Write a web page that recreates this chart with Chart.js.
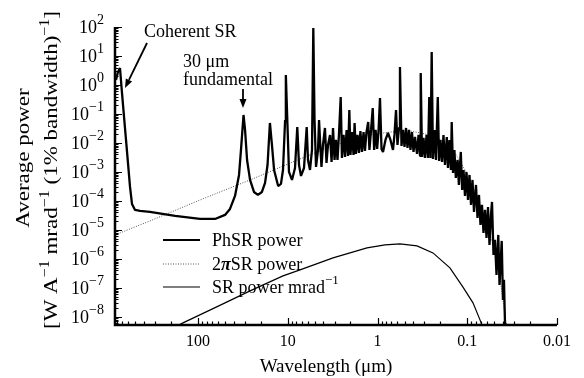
<!DOCTYPE html>
<html>
<head>
<meta charset="utf-8">
<script src="https://cdn.jsdelivr.net/npm/chart.js@4.4.0/dist/chart.umd.min.js"></script>
<style>
  html, body { margin: 0; padding: 0; background: #fff; }
  canvas { display: block; }
</style>
</head>
<body>
<canvas id="spectrum" width="584" height="378"></canvas>
<script>
// PhSR power: wavelength (um) and power
const phsrWavelength = [
  820, 779, 740, 703, 634, 572, 544, 503, 443, 343,
  180, 95.0, 64.6, 50.0, 44.0, 38.7, 34.9, 33.2, 31.1, 29.9,
  28.4, 26.3, 23.8, 21.5, 19.4, 17.9, 16.8, 15.8, 15.0, 14.2,
  12.8, 11.9, 11.3, 10.7, 10.5, 10.2, 9.69, 8.97, 8.30, 7.83,
  7.49, 7.12, 6.59, 6.15, 5.95, 5.65, 5.37, 5.19, 5.03, 4.84,
  4.60, 4.48, 4.37, 4.21, 4.05, 3.85, 3.70, 3.56, 3.38, 3.25,
  3.13, 3.01, 2.90, 2.79, 2.69, 2.57, 2.49, 2.39, 2.30, 2.21,
  2.13, 2.06, 2.00, 1.92, 1.85, 1.80, 1.74, 1.67, 1.61, 1.55,
  1.49, 1.43, 1.38, 1.33, 1.27, 1.23, 1.18, 1.13, 1.09, 1.05,
  1.01, 0.975, 0.938, 0.902, 0.868, 0.815, 0.764, 0.717, 0.672, 0.647,
  0.622, 0.599, 0.576, 0.562, 0.540, 0.520, 0.500, 0.481, 0.463, 0.446,
  0.429, 0.413, 0.397, 0.382, 0.363, 0.349, 0.336, 0.330, 0.319, 0.307,
  0.296, 0.284, 0.274, 0.265, 0.257, 0.249, 0.241, 0.232, 0.223, 0.213,
  0.206, 0.199, 0.191, 0.184, 0.177, 0.169, 0.164, 0.158, 0.152, 0.149,
  0.144, 0.139, 0.134, 0.128, 0.124, 0.118, 0.114, 0.110, 0.106, 0.102,
  0.0981, 0.0944, 0.0908, 0.0874, 0.0841, 0.0799, 0.0769, 0.0740, 0.0712, 0.0685,
  0.0659, 0.0634, 0.0610, 0.0587, 0.0565, 0.0544, 0.0530, 0.0510, 0.0491, 0.0472,
  0.0451, 0.0437, 0.0413, 0.0400, 0.0390, 0.0380, 0.0370
]
const phsrPower = [
  1.49, 2.81, 3.86, 0.53, 0.0127, 3.04e-4, 7.88e-5, 4.9e-5, 4.52e-5, 4.18e-5,
  3.04e-5, 2.39e-5, 2.39e-5, 3.29e-5, 5.3e-5, 1.49e-4, 7.88e-4, 5.74e-3, 0.0923, 0.0281,
  2.59e-3, 5.3e-4, 2.04e-4, 1.61e-4, 2.04e-4, 4.18e-4, 1.74e-3, 0.049, 8.53e-3, 1.17e-3,
  3.29e-4, 3.86e-4, 1.17e-3, 0.0621, 2.21, 0.137, 1.0e-3, 5.3e-4, 1.37e-3, 0.0356,
  1.74e-3, 7.28e-4, 1.37e-3, 0.0356, 2.59e-3, 1.17e-3, 5.74e-3, 92, 0.0621, 1.49e-3,
  5.74e-3, 0.0621, 0.0127, 1.49e-3, 8.53e-3, 0.0329, 2.04e-3, 8.53e-3, 0.0189, 2.21e-3,
  0.0329, 2.59e-3, 0.0127, 2.59e-3, 0.0189, 0.386, 3.04e-3, 0.0189, 3.29e-3, 0.0281,
  3.56e-3, 0.137, 3.86e-3, 0.0239, 3.86e-3, 0.049, 4.18e-3, 0.0189, 4.52e-3, 0.0259,
  4.9e-3, 0.0239, 5.3e-3, 0.0221, 0.053, 5.74e-3, 0.0281, 0.161, 5.74e-3, 0.0281,
  6.21e-3, 0.0239, 0.356, 6.21e-3, 4.9e-3, 0.0127, 0.0221, 0.0127, 5.74e-3, 0.0189,
  0.137, 8.53e-3, 0.0329, 4.18, 7.88e-3, 0.0281, 7.28e-3, 0.0329, 6.72e-3, 0.0281,
  5.74e-3, 0.0239, 4.9e-3, 0.0161, 4.18e-3, 0.0189, 3.56e-3, 2.59, 3.29e-3, 0.0149,
  3.04e-3, 0.0189, 3.04e-3, 0.386, 3.04e-3, 13.7, 2.81e-3, 0.0281, 2.59e-3, 0.386,
  2.39e-3, 0.0127, 2.21e-3, 0.0189, 1.74e-3, 0.0161, 1.37e-3, 0.0127, 1.17e-3, 0.053,
  9.24e-4, 5.74e-3, 6.21e-4, 2.59e-3, 3.56e-4, 4.9e-3, 2.39e-4, 1.17e-3, 1.49e-4, 1.0e-3,
  1.08e-4, 7.88e-4, 7.28e-5, 5.3e-4, 4.18e-5, 3.56e-4, 2.59e-5, 1.61e-4, 1.49e-5, 7.28e-5,
  7.88e-6, 4.9e-5, 5.3e-6, 6.21e-5, 3.04e-6, 3.29e-5, 9.24e-5, 1.37e-6, 4.52e-6, 2.81e-7,
  6.72e-6, 1.27e-7, 4.18e-6, 3.86e-8, 1.89e-7, 6.72e-9, 3.56e-9
]

// 2piSR power
const twoPiWavelength = [840, 343, 95.0, 26.3, 7.30, 3.38, 2.02, 1.21, 0.717, 0.434,
  0.260, 0.177, 0.137, 0.106, 0.0820, 0.0634, 0.0516, 0.0432, 0.0380, 0.0352]
const twoPiPower = [6.72e-6, 2.04e-5, 1.08e-4, 5.3e-4, 2.81e-3, 7.28e-3, 0.0127, 0.0189, 0.0239, 0.0259,
  0.0189, 0.01, 4.52e-3, 1.17e-3, 2.04e-4, 2.59e-5, 3.04e-6, 2.21e-7, 1.17e-8, 2.4e-9]

// SR power per mrad
const srWavelength = [180, 147, 61.9, 26.3, 11.3, 7.30, 3.13, 1.31, 0.825, 0.562,
  0.363, 0.241, 0.156, 0.112, 0.0863, 0.0721, 0.0668]
const srPower = [4.52e-9, 6.21e-9, 2.21e-8, 7.88e-8, 2.59e-7, 4.18e-7, 1.08e-6, 2.39e-6, 3.04e-6, 3.29e-6,
  2.81e-6, 1.61e-6, 4.9e-7, 1.08e-7, 3.04e-8, 7.88e-9, 4.18e-9]

const xTickValues = [100, 10, 1, 0.1, 0.01]
const xTickLabels = ['100', '10', '1', '0.1', '0.01']
const yTickExponents = [2, 1, 0, -1, -2, -3, -4, -5, -6, -7, -8]

const SERIF = "'Liberation Serif', 'Times New Roman', serif"
const MINUS = '\u2212'

function pairs(xs, ys) {
  return xs.map((x, i) => ({ x: x, y: ys[i] }))
}

function setFont(ctx, size, style) {
  ctx.font = (style || '') + ' ' + size + 'px ' + SERIF
}

// a run is a list of [text, size, rise, style] pieces
function runWidth(ctx, run) {
  let w = 0
  for (const p of run) {
    setFont(ctx, p[1], p[3])
    w += ctx.measureText(p[0]).width
  }
  return w
}

function drawRun(ctx, run, x, y) {
  for (const p of run) {
    setFont(ctx, p[1], p[3])
    ctx.fillText(p[0], x, y - (p[2] || 0))
    x += ctx.measureText(p[0]).width
  }
  return x
}

// rotated title, squeezed a little across the glyphs
function drawVertical(ctx, run, x, y, squeeze) {
  ctx.save()
  ctx.translate(x, y)
  ctx.rotate(-Math.PI / 2)
  ctx.scale(1, squeeze)
  drawRun(ctx, run, -runWidth(ctx, run) / 2, 0)
  ctx.restore()
}

function arrow(ctx, x1, y1, x2, y2) {
  const ang = Math.atan2(y2 - y1, x2 - x1)
  const len = 9, half = 3.5
  const bx = x2 - len * Math.cos(ang), by = y2 - len * Math.sin(ang)
  ctx.lineWidth = 1.8
  ctx.beginPath()
  ctx.moveTo(x1, y1)
  ctx.lineTo(bx, by)
  ctx.stroke()
  ctx.beginPath()
  ctx.moveTo(x2, y2)
  ctx.lineTo(bx + half * Math.sin(ang), by - half * Math.cos(ang))
  ctx.lineTo(bx - half * Math.sin(ang), by + half * Math.cos(ang))
  ctx.closePath()
  ctx.fill()
}

// axes with inward ticks, labels, titles, legend and notes
const frame = {
  id: 'frame',
  afterDraw(chart) {
    const ctx = chart.ctx
    const area = chart.chartArea
    const xs = chart.scales.x
    const ys = chart.scales.y
    ctx.save()
    ctx.strokeStyle = '#000'
    ctx.fillStyle = '#000'
    ctx.lineCap = 'butt'

    // axis lines
    ctx.lineWidth = 2.5
    ctx.beginPath()
    ctx.moveTo(area.left, area.top)
    ctx.lineTo(area.left, area.bottom)
    ctx.lineTo(area.right, area.bottom)
    ctx.stroke()

    // log ticks
    ctx.lineWidth = 1.2
    ctx.beginPath()
    for (let e = -9; e <= 2; e++) {
      for (let m = 1; m <= 9; m++) {
        const v = m * Math.pow(10, e)
        if (v < ys.min || v > ys.max) continue
        const py = Math.round(ys.getPixelForValue(v)) + 0.5
        ctx.moveTo(area.left, py)
        ctx.lineTo(area.left + (m === 1 ? 7 : 3.5), py)
      }
    }
    for (let e = -2; e <= 2; e++) {
      for (let m = 1; m <= 9; m++) {
        const v = m * Math.pow(10, e)
        if (v < xs.min || v > xs.max) continue
        const px = Math.round(xs.getPixelForValue(v)) + 0.5
        ctx.moveTo(px, area.bottom)
        ctx.lineTo(px, area.bottom - (m === 1 ? 7 : 3.5))
      }
    }
    ctx.stroke()

    // y tick labels 10^n
    ctx.textAlign = 'left'
    ctx.textBaseline = 'alphabetic'
    for (const e of yTickExponents) {
      const py = ys.getPixelForValue(Math.pow(10, e))
      const sup = e < 0 ? MINUS + Math.abs(e) : String(e)
      const run = [['10', 18, 0], [sup, 14, 9]]
      drawRun(ctx, run, 104 - runWidth(ctx, run), py + 6)
    }

    // x tick labels
    ctx.textAlign = 'center'
    setFont(ctx, 16)
    xTickValues.forEach((v, i) => {
      ctx.fillText(xTickLabels[i], xs.getPixelForValue(v), 346)
    })

    // axis titles
    setFont(ctx, 19)
    ctx.fillText('Wavelength (\u03bcm)', 326, 372)
    ctx.textAlign = 'left'

    const yTitle1 = [['Average power', 23, 0]]
    const yTitle2 = [['[W A', 23, 0], [MINUS + '1', 16, 10], [' mrad', 23, 0], [MINUS + '1', 16, 10],
      [' (1% bandwidth)', 23, 0], [MINUS + '1', 16, 10], [']', 23, 0]]
    drawVertical(ctx, yTitle1, 29, 158, 0.85)
    drawVertical(ctx, yTitle2, 57, 170, 0.85)

    // legend
    const rows = [
      { y: 240, width: 2, dash: [], color: '#000', run: [['PhSR power', 18, 0]] },
      { y: 264, width: 1, dash: [1, 1.5], color: '#555', run: [['2', 18, 0], ['\u03c0', 18, 0, 'italic bold'], ['SR power', 18, 0]] },
      { y: 287, width: 1.2, dash: [], color: '#000', run: [['SR power mrad', 18, 0], [MINUS + '1', 13, 9]] }
    ]
    for (const r of rows) {
      ctx.strokeStyle = r.color
      ctx.lineWidth = r.width
      ctx.setLineDash(r.dash)
      ctx.beginPath()
      ctx.moveTo(163, r.y)
      ctx.lineTo(200, r.y)
      ctx.stroke()
      ctx.setLineDash([])
      drawRun(ctx, r.run, 212, r.y + 6)
    }

    // notes
    ctx.strokeStyle = '#000'
    setFont(ctx, 18)
    ctx.fillText('Coherent SR', 144, 37)
    ctx.fillText('30 \u03bcm', 183, 67)
    ctx.fillText('fundamental', 183, 85)
    arrow(ctx, 147, 43, 125, 88)
    arrow(ctx, 243, 89, 243, 108)
    ctx.restore()
  }
}

new Chart(document.getElementById('spectrum'), {
  type: 'line',
  data: {
    datasets: [
      {
        label: 'PhSR power',
        data: pairs(phsrWavelength, phsrPower),
        borderColor: '#000',
        borderWidth: 2.3,
        borderJoinStyle: 'bevel',
        pointRadius: 0
      },
      {
        label: '2\u03c0SR power',
        data: pairs(twoPiWavelength, twoPiPower),
        borderColor: '#555',
        borderWidth: 1,
        borderDash: [1, 1.5],
        pointRadius: 0
      },
      {
        label: 'SR power mrad\u22121',
        data: pairs(srWavelength, srPower),
        borderColor: '#000',
        borderWidth: 1.2,
        pointRadius: 0
      }
    ]
  },
  options: {
    responsive: false,
    animation: false,
    devicePixelRatio: 1,
    layout: { padding: { left: 115, right: 27, top: 27, bottom: 53 } },
    plugins: { legend: { display: false }, tooltip: { enabled: false } },
    scales: {
      x: { type: 'logarithmic', reverse: true, min: 0.01, max: 841, display: false },
      y: { type: 'logarithmic', min: 5.25e-9, max: 100, display: false }
    }
  },
  plugins: [frame]
})
</script>
</body>
</html>
